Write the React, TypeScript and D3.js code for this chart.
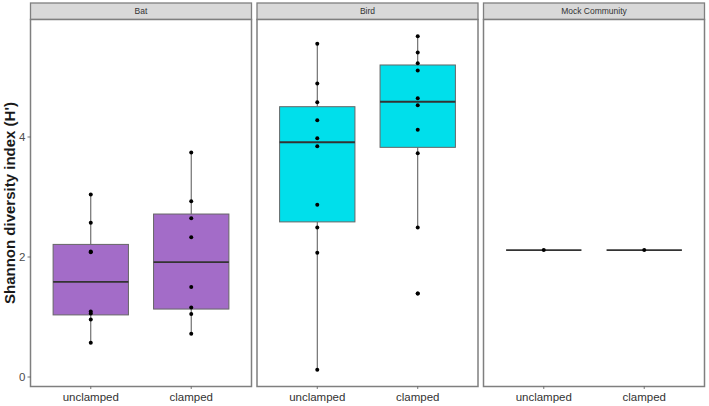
import React from "react";
import * as d3 from "d3";

const facets = ["Bat", "Bird", "Mock Community"];
const groups = ["unclamped", "clamped"];
const batUnclamped = [0.57, 0.96, 1.06, 1.09, 2.08, 2.09, 2.57, 3.04];
const batClamped = [0.72, 1.05, 1.16, 1.5, 2.33, 2.645, 2.93, 3.74];
const birdUnclamped = [0.12, 2.07, 2.49, 2.87, 3.845, 3.98, 4.28, 4.58, 4.89, 5.555];
const birdClamped = [1.39, 2.49, 3.73, 4.12, 4.53, 4.645, 5.11, 5.23, 5.41, 5.68];
const mockUnclamped = [2.115];
const mockClamped = [2.115];
const facetValues = [
  [batUnclamped, batClamped],
  [birdUnclamped, birdClamped],
  [mockUnclamped, mockClamped],
];
const facetFills = ["#a36cc8", "#00dfeb", "#ffffff"];
const yTicks = [0, 2, 4];

const W = 709;
const H = 406;
const panelLefts = [30.5, 257, 483.5];
const panelW = 221;
const panelTop = 19.5;
const panelBottom = 386.5;
const stripTop = 3;

function stats(v: number[]) {
  const s = [...v].sort((a, b) => a - b);
  const q1 = d3.quantile(s, 0.25)!;
  const med = d3.quantile(s, 0.5)!;
  const q3 = d3.quantile(s, 0.75)!;
  const iqr = q3 - q1;
  const lo = d3.min(s.filter((d) => d >= q1 - 1.5 * iqr))!;
  const hi = d3.max(s.filter((d) => d <= q3 + 1.5 * iqr))!;
  return { q1, med, q3, lo, hi };
}

export default function App() {
  const all = facetValues.flat(2);
  const mn = d3.min(all)!;
  const mx = d3.max(all)!;
  const pad = (mx - mn) * 0.05;
  const y = d3.scaleLinear().domain([mn - pad, mx + pad]).range([panelBottom, panelTop]);

  return (
    <svg width={W} height={H} style={{ position: "absolute", left: 0, top: 0 }} fontFamily="'Liberation Sans', Arial, sans-serif">
      <rect width={W} height={H} fill="#fff" />
      {facets.map((f, fi) => {
        const left = panelLefts[fi];
        const x = d3.scaleBand().domain(groups).range([left, left + panelW]).paddingOuter(0.1).paddingInner(0.2);
        // ggplot discrete: centers at 0.6 and 1.6 units of 2.2
        const xc = d3.scalePoint().domain(groups).range([left + panelW * (0.6 / 2.2), left + panelW * (1.6 / 2.2)]);
        const unit = panelW / 2.2;
        const bw = 0.75 * unit;
        return (
          <g key={f}>
            <rect x={left} y={stripTop} width={panelW} height={panelTop - stripTop} fill="#d9d9d9" stroke="#7f7f7f" strokeWidth={1.3} />
            <text x={left + panelW / 2} y={(stripTop + panelTop) / 2 + 3} textAnchor="middle" fontSize={8.5} fill="#333">{f}</text>
            <rect x={left} y={panelTop} width={panelW} height={panelBottom - panelTop} fill="#fff" stroke="#7f7f7f" strokeWidth={1.5} />
            {groups.map((g, gi) => {
              const vals = facetValues[fi][gi];
              const s = stats(vals);
              const cx = xc(g)!;
              const outliers = vals.filter((d) => d < s.lo || d > s.hi);
              return (
                <g key={g}>
                  <line x1={cx} x2={cx} y1={y(s.hi)} y2={y(s.q3)} stroke="#555" strokeWidth={1} />
                  <line x1={cx} x2={cx} y1={y(s.q1)} y2={y(s.lo)} stroke="#555" strokeWidth={1} />
                  {s.q3 - s.q1 > 0 ? (
                    <rect x={cx - bw / 2} y={y(s.q3)} width={bw} height={y(s.q1) - y(s.q3)} fill={facetFills[fi]} stroke="#666" strokeWidth={1} />
                  ) : null}
                  <line x1={cx - bw / 2} x2={cx + bw / 2} y1={y(s.med)} y2={y(s.med)} stroke="#333" strokeWidth={1.8} />
                  {outliers.map((o, i) => (
                    <circle key={"o" + i} cx={cx} cy={y(o)} r={2} fill="#000" />
                  ))}
                  {vals.map((v, i) => (
                    <circle key={i} cx={cx} cy={y(v)} r={2} fill="#000" />
                  ))}
                  <line x1={cx} x2={cx} y1={panelBottom} y2={panelBottom + 2.5} stroke="#555" strokeWidth={0.8} />
                  <text x={cx} y={401} textAnchor="middle" fontSize={11.5} fill="#333">{g}</text>
                </g>
              );
            })}
          </g>
        );
      })}
      {yTicks.map((t) => (
        <g key={t}>
          <line x1={panelLefts[0] - 3} x2={panelLefts[0]} y1={y(t)} y2={y(t)} stroke="#555" strokeWidth={0.8} />
          <text x={panelLefts[0] - 5} y={y(t) + 4} textAnchor="end" fontSize={11.5} fill="#4d4d4d">{t}</text>
        </g>
      ))}
      <text transform={`translate(15,${(panelTop + panelBottom) / 2}) rotate(-90)`} textAnchor="middle" fontSize={15} fontWeight="bold" fill="#1a1a1a">Shannon diversity index (H')</text>
    </svg>
  );
}
